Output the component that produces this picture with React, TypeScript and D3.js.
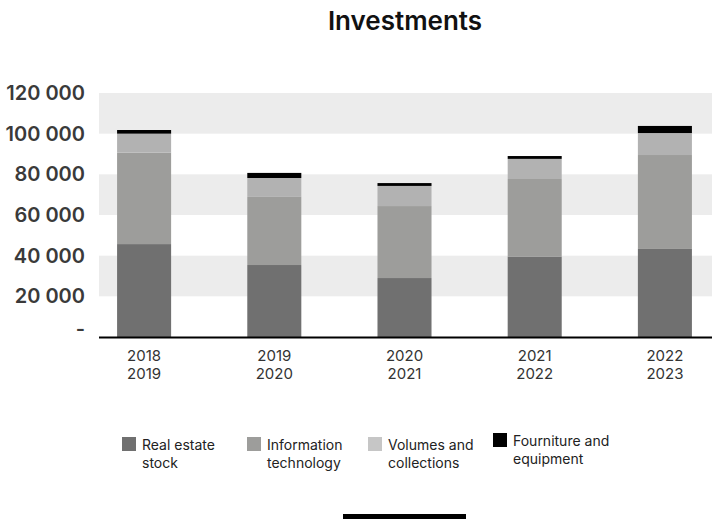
import React, { useEffect, useMemo } from 'react';
import * as d3 from 'd3';

const years = ['2018\n2019', '2019\n2020', '2020\n2021', '2021\n2022', '2022\n2023'];
const series = ['Real estate stock', 'Information technology', 'Volumes and collections', 'Fourniture and equipment'];
const realEstate = [45700, 35400, 29000, 39400, 43300];
const infoTech = [45000, 33500, 35400, 38300, 46200];
const volumes = [9300, 9300, 9900, 9900, 10800];
const furniture = [1800, 2500, 1400, 1400, 3500];
const yTicks = [0, 20000, 40000, 60000, 80000, 100000, 120000];
const legendLines = [['Real estate', 'stock'], ['Information', 'technology'], ['Volumes and', 'collections'], ['Fourniture and', 'equipment']];

const colors = ['#707070', '#9d9d9b', '#b2b2b2', '#000000'];
const FONT = 'Inter, "Open Sans", sans-serif';

const W = 712;
const H = 523;

const App: React.FC = () => {
    useEffect(() => {
        document.body.style.margin = '0';
    }, []);

    const rows = useMemo(() => years.map((y, i) => ({
        year: y,
        [series[0]]: realEstate[i],
        [series[1]]: infoTech[i],
        [series[2]]: volumes[i],
        [series[3]]: furniture[i],
    })), []);

    const stacked = useMemo(() => d3.stack<any>().keys(series)(rows), [rows]);

    const x = d3.scaleBand<string>()
        .domain(years)
        .range([79, 730])
        .paddingInner(0.585)
        .paddingOuter(0.2925);

    const y = d3.scaleLinear().domain([0, 120000]).range([337, 93]);

    const plotLeft = 99;
    const fmt = (v: number) => v === 0 ? '-' : d3.format(',')(v).replace(/,/g, ' ');

    // legend positions
    const legendX = [122, 247, 368, 493];
    const legendY = [437, 437, 437, 433];

    return (
        <svg width={W} height={H} style={{ display: 'block', fontFamily: FONT }}>
            <rect width={W} height={H} fill="#fff" />
            <text x={405} y={20} textAnchor="middle" dominantBaseline="central"
                fontSize={26} fontWeight={600} fill="#111">Investments</text>

            {/* bandes grises */}
            {[1, 3, 5].map(i => (
                <rect key={i} x={plotLeft} width={W - plotLeft}
                    y={y(yTicks[i + 1])} height={y(yTicks[i]) - y(yTicks[i + 1])} fill="#ececec" />
            ))}

            {yTicks.map(t => (
                <text key={t} x={85} y={t === 0 ? y(t) - 8 : y(t)} textAnchor="end" dominantBaseline="central"
                    fontSize={20} fontWeight={600} fill="#3a3a3a">{fmt(t)}</text>
            ))}

            <g>
                {stacked.map((s, si) => (
                    <g key={s.key} fill={colors[si]}>
                        {s.map((d: any, i) => (
                            <rect key={i} x={x(years[i])} width={x.bandwidth()}
                                y={y(d[1])} height={y(d[0]) - y(d[1])} />
                        ))}
                    </g>
                ))}
            </g>

            <line x1={plotLeft} x2={W} y1={337.5} y2={337.5} stroke="#000" strokeWidth={2} />

            {years.map(yr => {
                const cx = (x(yr) || 0) + x.bandwidth() / 2;
                const parts = yr.split('\n');
                return (
                    <g key={yr} fontSize={15} fill="#333" textAnchor="middle">
                        <text x={cx} y={355} dominantBaseline="central">{parts[0]}</text>
                        <text x={cx} y={373} dominantBaseline="central">{parts[1]}</text>
                    </g>
                );
            })}

            {legendLines.map((lines, i) => (
                <g key={i}>
                    <rect x={legendX[i]} y={legendY[i]} width={14} height={14} fill={colors[i] === '#b2b2b2' ? '#c6c6c6' : colors[i]} />
                    <text x={legendX[i] + 20} y={legendY[i] + 7} dominantBaseline="central" fontSize={14} fill="#222">{lines[0]}</text>
                    <text x={legendX[i] + 20} y={legendY[i] + 25} dominantBaseline="central" fontSize={14} fill="#222">{lines[1]}</text>
                </g>
            ))}

            <rect x={343} y={514} width={123} height={5} fill="#000" />
        </svg>
    );
};

export default App;
